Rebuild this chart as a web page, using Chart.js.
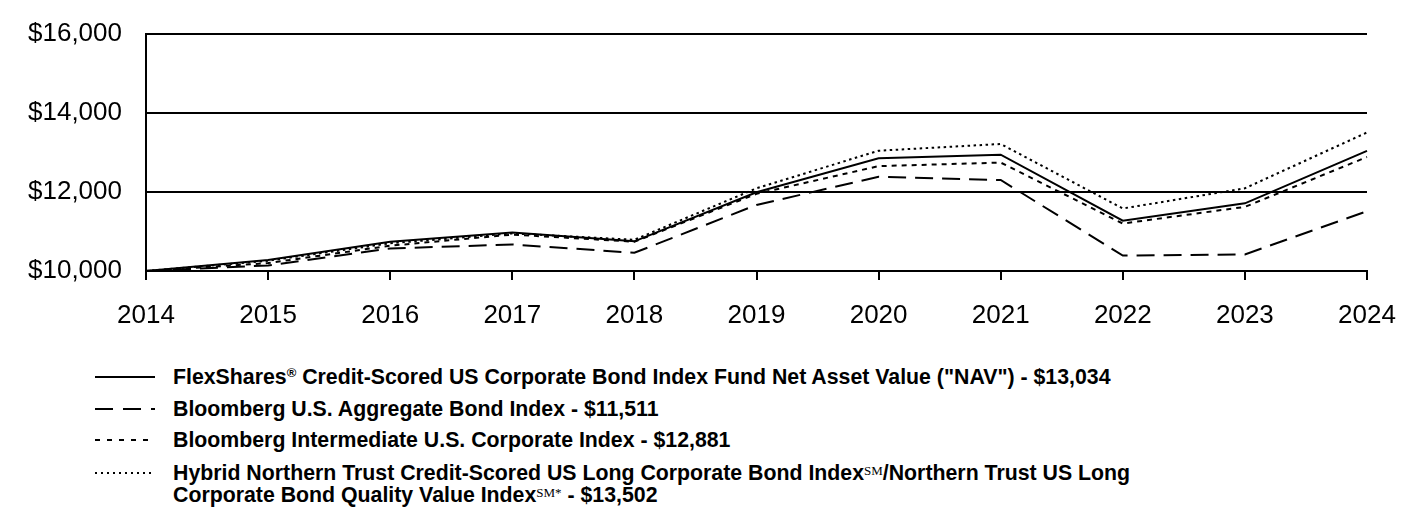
<!DOCTYPE html>
<html>
<head>
<meta charset="utf-8">
<script src="https://cdn.jsdelivr.net/npm/chart.js@4.4.1/dist/chart.umd.min.js"></script>
<style>
  html, body { margin: 0; padding: 0; background: #fff; }
  #wrap { position: relative; width: 1416px; height: 516px; overflow: hidden; }
  #chartBox { position: absolute; left: 0; top: -6px; width: 1416px; height: 351px; }
  .leg { position: absolute; left: 0; font-family: "Liberation Sans", Arial, sans-serif; font-weight: bold; font-size: 21.3px; color: #000; line-height: 22px; white-space: nowrap; }
  .leg svg { position: absolute; left: 95px; top: 0; }
  .leg .t { position: absolute; left: 173px; top: 0; }
  .reg { font-size: 13px; vertical-align: 7px; line-height: 0; }
  .sm { font-family: "Liberation Serif", serif; font-weight: normal; font-size: 13px; vertical-align: 5px; line-height: 0; }
</style>
</head>
<body>
<div id="wrap">
  <div id="chartBox"><canvas id="c"></canvas></div>
  <div id="legend"></div>
</div>
<script>
// ---- data ----
const years = ['2014','2015','2016','2017','2018','2019','2020','2021','2022','2023','2024'];
const navValues = [10000, 10280, 10740, 10970, 10750, 11990, 12850, 12940, 11270, 11710, 13034];
const aggregateValues = [10000, 10140, 10570, 10670, 10460, 11670, 12380, 12300, 10390, 10420, 11511];
const intermediateValues = [10000, 10200, 10640, 10920, 10740, 11950, 12650, 12740, 11200, 11620, 12881];
const hybridValues = [10000, 10260, 10700, 10950, 10790, 12090, 13040, 13210, 11580, 12090, 13502];
const yTicks = [10000, 12000, 14000, 16000];
const seriesNames = [
  'FlexShares® Credit-Scored US Corporate Bond Index Fund Net Asset Value ("NAV") - $13,034',
  'Bloomberg U.S. Aggregate Bond Index - $11,511',
  'Bloomberg Intermediate U.S. Corporate Index - $12,881',
  'Hybrid Northern Trust Credit-Scored US Long Corporate Bond Index℠/Northern Trust US Long Corporate Bond Quality Value Index℠* - $13,502'
];

const dashes = [[], [18, 9], [5, 5], [2.5, 3.5]];
const values = [navValues, aggregateValues, intermediateValues, hybridValues];

const ctx = document.getElementById('c');
new Chart(ctx, {
  type: 'line',
  data: {
    labels: years,
    datasets: values.map((v, i) => ({
      label: seriesNames[i],
      data: v,
      borderColor: '#000',
      borderWidth: 2,
      borderDash: dashes[i],
      borderCapStyle: 'butt',
      pointRadius: 0,
      tension: 0,
      fill: false
    }))
  },
  options: {
    responsive: true,
    maintainAspectRatio: false,
    animation: false,
    layout: { padding: { top: 28, right: 49, left: 0, bottom: 0 } },
    plugins: { legend: { display: false }, tooltip: { enabled: false } },
    scales: {
      x: {
        grid: { drawOnChartArea: false, drawTicks: true, tickLength: 9, color: '#000', lineWidth: 2 },
        border: { color: '#000', width: 2 },
        ticks: { color: '#000', font: { family: 'Liberation Sans', size: 26 }, padding: 20, maxRotation: 0, autoSkip: false },
        afterFit: s => { s.height = 74; }
      },
      y: {
        min: 10000, max: 16000,
        afterBuildTicks: s => { s.ticks = yTicks.map(v => ({ value: v })); },
        grid: { drawTicks: false, color: '#000', lineWidth: 2 },
        border: { color: '#000', width: 2 },
        ticks: {
          color: '#000', font: { family: 'Liberation Sans', size: 26 }, padding: 24,
          callback: v => '$' + v.toLocaleString('en-US')
        },
        afterFit: s => { s.width = 146; }
      }
    }
  }
});

// ---- HTML legend ----
const legendRows = [
  { top: 366, html: 'FlexShares<span class="reg">®</span> Credit-Scored US Corporate Bond Index Fund Net Asset Value ("NAV") - $13,034', dash: '' },
  { top: 398, html: 'Bloomberg U.S. Aggregate Bond Index - $11,511', dash: '18 10' },
  { top: 429, html: 'Bloomberg Intermediate U.S. Corporate Index - $12,881', dash: '5 7' },
  { top: 462, html: 'Hybrid Northern Trust Credit-Scored US Long Corporate Bond Index<span class="sm">SM</span>/Northern Trust US Long<br>Corporate Bond Quality Value Index<span class="sm">SM*</span> - $13,502', dash: '2 4' }
];
const lg = document.getElementById('legend');
legendRows.forEach(r => {
  const d = document.createElement('div');
  d.className = 'leg';
  d.style.top = r.top + 'px';
  d.innerHTML = '<svg width="62" height="22"><line x1="0" y1="11" x2="60" y2="11" stroke="#000" stroke-width="2"' +
    (r.dash ? ' stroke-dasharray="' + r.dash + '"' : '') + '/></svg><span class="t">' + r.html + '</span>';
  lg.appendChild(d);
});
</script>
</body>
</html>
